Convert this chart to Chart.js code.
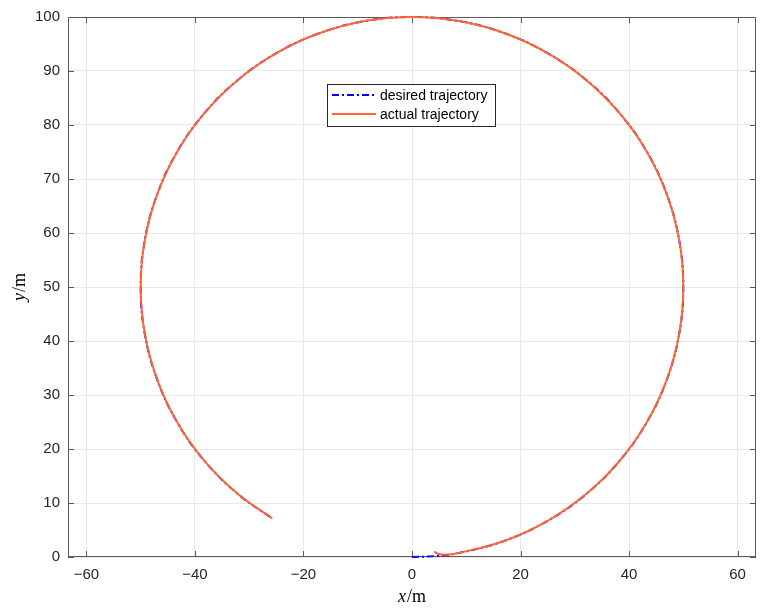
<!DOCTYPE html>
<html>
<head>
<meta charset="utf-8">
<script src="https://cdn.jsdelivr.net/npm/chart.js@4.4.0/dist/chart.umd.min.js"></script>
<style>
body { margin: 0; background: #fff; }
#wrap { width: 765px; height: 614px; }
</style>
</head>
<body>
<div id="wrap"><canvas id="traj" width="765" height="614"></canvas></div>
<script>
// ---- data ----
var desiredX = [0, 4.36, 8.68, 17.10, 25.00, 32.14, 38.30, 43.30, 46.98, 49.24, 50, 49.24, 46.98, 43.30, 38.30, 32.14, 25.00, 17.10, 8.68, 0,
	-8.68, -17.10, -25.00, -32.14, -38.30, -43.30, -46.98, -49.24, -50, -49.24, -46.98, -43.30, -38.30, -32.14, -25.75];
var desiredY = [0, 0.19, 0.76, 3.02, 6.70, 11.70, 17.86, 25.00, 32.90, 41.32, 50, 58.68, 67.10, 75.00, 82.14, 88.30, 93.30, 96.98, 99.24, 100,
	99.24, 96.98, 93.30, 88.30, 82.14, 75.00, 67.10, 58.68, 50, 41.32, 32.90, 25.00, 17.86, 11.70, 7.14];

var actualX = [4.1, 4.6, 5.5, 6.6, 8.68, 17.10, 25.00, 32.14, 38.30, 43.30, 46.98, 49.24, 50, 49.24, 46.98, 43.30, 38.30, 32.14, 25.00, 17.10, 8.68, 0,
	-8.68, -17.10, -25.00, -32.14, -38.30, -43.30, -46.98, -49.24, -50, -49.24, -46.98, -43.30, -38.30, -32.14, -25.75];
var actualY = [1.0, 0.65, 0.45, 0.45, 0.76, 3.02, 6.70, 11.70, 17.86, 25.00, 32.90, 41.32, 50, 58.68, 67.10, 75.00, 82.14, 88.30, 93.30, 96.98, 99.24, 100,
	99.24, 96.98, 93.30, 88.30, 82.14, 75.00, 67.10, 58.68, 50, 41.32, 32.90, 25.00, 17.86, 11.70, 7.14];

var xTicks = [-60, -40, -20, 0, 20, 40, 60];
var yTicks = [0, 10, 20, 30, 40, 50, 60, 70, 80, 90, 100];
var seriesNames = ["desired trajectory", "actual trajectory"];

var axisColor = "#5a5a5a";
var textColor = "#262626";
var blue = "#0000ff";
var orange = "#ff6633";

function pts(xs, ys) {
	return xs.map(function (x, i) { return { x: x, y: ys[i] }; });
}

function minusSign(v) {
	return String(v).replace("-", "\u2212");
}

// box + inward ticks under the lines, legend and axis labels on top
var extras = {
	id: "extras",
	beforeDatasetsDraw: function (chart) {
		var ctx = chart.ctx;
		var a = chart.chartArea;
		var sx = chart.scales.x, sy = chart.scales.y;
		ctx.save();
		ctx.strokeStyle = axisColor;
		ctx.lineWidth = 1;
		ctx.strokeRect(a.left + 0.5, a.top + 0.5, a.right - a.left - 1, a.bottom - a.top - 1);
		ctx.beginPath();
		xTicks.forEach(function (v) {
			var p = Math.round(sx.getPixelForValue(v)) + 0.5;
			ctx.moveTo(p, a.bottom); ctx.lineTo(p, a.bottom - 6);
			ctx.moveTo(p, a.top); ctx.lineTo(p, a.top + 6);
		});
		yTicks.forEach(function (v) {
			var p = Math.round(sy.getPixelForValue(v)) + 0.5;
			ctx.moveTo(a.left, p); ctx.lineTo(a.left + 6, p);
			ctx.moveTo(a.right, p); ctx.lineTo(a.right - 6, p);
		});
		ctx.stroke();
		ctx.restore();
	},
	afterDraw: function (chart) {
		var ctx = chart.ctx;
		var a = chart.chartArea;
		ctx.save();

		// legend
		var lx = 327.5, ly = 84.5, lw = 168, lh = 42;
		ctx.fillStyle = "#fff";
		ctx.fillRect(lx, ly, lw, lh);
		ctx.lineWidth = 1;
		ctx.strokeStyle = textColor;
		ctx.strokeRect(lx, ly, lw, lh);
		ctx.lineWidth = 2;
		ctx.strokeStyle = blue;
		ctx.setLineDash([7, 3, 2, 3]);
		ctx.beginPath(); ctx.moveTo(332, 95); ctx.lineTo(376, 95); ctx.stroke();
		ctx.setLineDash([]);
		ctx.strokeStyle = orange;
		ctx.beginPath(); ctx.moveTo(332, 114); ctx.lineTo(376, 114); ctx.stroke();
		ctx.fillStyle = "#000";
		ctx.font = "14px 'Liberation Sans', Arial, sans-serif";
		ctx.textBaseline = "middle";
		ctx.textAlign = "left";
		ctx.fillText(seriesNames[0], 380, 96);
		ctx.fillText(seriesNames[1], 380, 115);

		// axis titles: italic variable, upright unit
		function mathLabel(cx, cy, v) {
			var it = "italic 18px 'Liberation Serif', 'DejaVu Serif', serif";
			var up = "18px 'Liberation Serif', 'DejaVu Serif', serif";
			ctx.font = it; var w1 = ctx.measureText(v).width + 1;
			ctx.font = up; var w2 = ctx.measureText("/m").width;
			var x0 = cx - (w1 + w2) / 2;
			ctx.textAlign = "left";
			ctx.textBaseline = "alphabetic";
			ctx.font = it; ctx.fillText(v, x0, cy);
			ctx.font = up; ctx.fillText("/m", x0 + w1, cy);
		}
		ctx.fillStyle = "#000";
		mathLabel((a.left + a.right) / 2, 602, "x");
		ctx.translate(25, (a.top + a.bottom) / 2);
		ctx.rotate(-Math.PI / 2);
		mathLabel(0, 0, "y");
		ctx.restore();
	}
};

var grafico = new Chart(document.getElementById("traj"), {
	type: "scatter",
	data: {
		datasets: [{
			label: seriesNames[0],
			data: pts(desiredX, desiredY),
			showLine: true,
			borderColor: blue,
			borderWidth: 2,
			borderDash: [7, 3, 2, 3],
			pointRadius: 0,
			tension: 0.4,
			clip: false,
			order: 2
		}, {
			label: seriesNames[1],
			data: pts(actualX, actualY),
			showLine: true,
			borderColor: orange,
			borderWidth: 2,
			pointRadius: 0,
			tension: 0.4,
			clip: false,
			order: 1
		}]
	},
	options: {
		responsive: false,
		animation: false,
		layout: { padding: { top: 15, right: 9, left: 0, bottom: 0 } },
		plugins: { legend: { display: false }, tooltip: { enabled: false } },
		scales: {
			x: {
				type: "linear",
				min: -63.4,
				max: 63.4,
				afterBuildTicks: function (s) { s.ticks = xTicks.map(function (v) { return { value: v }; }); },
				afterFit: function (s) { s.height = 57; },
				grid: { color: "#e8e8e8", drawTicks: false },
				border: { display: false },
				ticks: {
					padding: 9,
					color: textColor,
					font: { family: "'Liberation Sans', Arial, sans-serif", size: 15 },
					maxRotation: 0,
					callback: function (v) { return minusSign(v); }
				}
			},
			y: {
				type: "linear",
				min: 0,
				max: 100,
				afterBuildTicks: function (s) { s.ticks = yTicks.map(function (v) { return { value: v }; }); },
				afterFit: function (s) { s.width = 68; },
				grid: { color: "#e8e8e8", drawTicks: false },
				border: { display: false },
				ticks: {
					padding: 8,
					color: textColor,
					font: { family: "'Liberation Sans', Arial, sans-serif", size: 15 },
					callback: function (v) { return minusSign(v); }
				}
			}
		}
	},
	plugins: [extras]
});
</script>
</body>
</html>
